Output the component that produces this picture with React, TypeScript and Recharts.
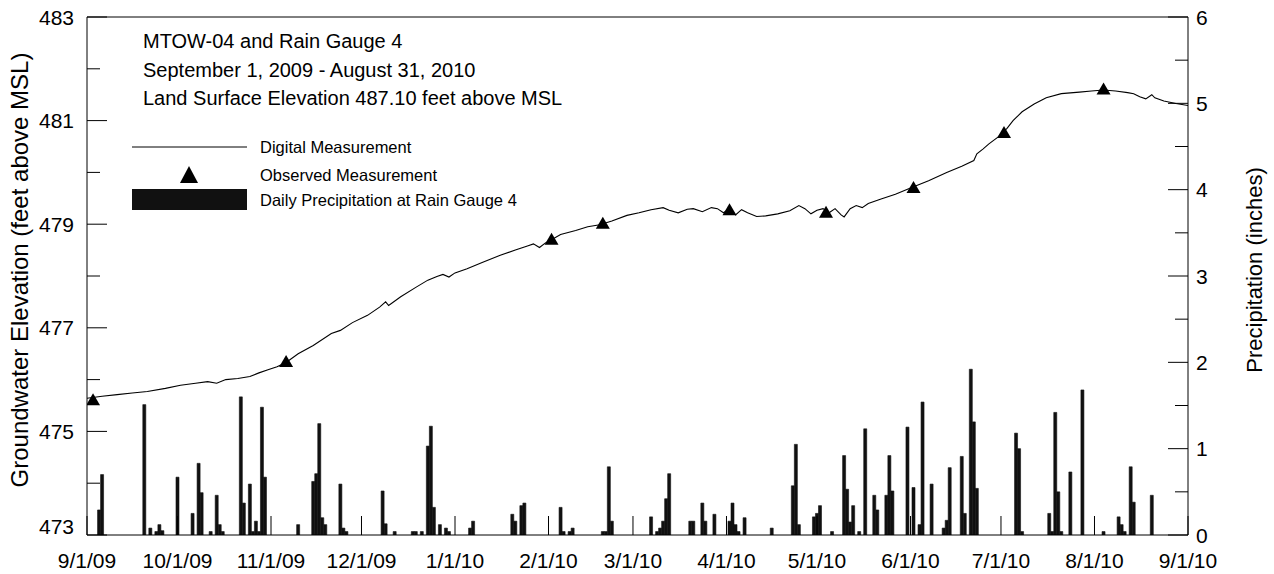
import React from "react";
import { ComposedChart, Bar, Line, Scatter, XAxis, YAxis, ReferenceLine } from "recharts";

const FONT = '"Liberation Sans", Arial, Helvetica, sans-serif';

// days counted from 9/1/09
const MONTH_DAYS = [0, 30, 61, 91, 122, 153, 181, 212, 242, 273, 303, 334, 365];
const MONTH_LABELS = [
  "9/1/09", "10/1/09", "11/1/09", "12/1/09", "1/1/10", "2/1/10", "3/1/10",
  "4/1/10", "5/1/10", "6/1/10", "7/1/10", "8/1/10", "9/1/10",
];
const ELEV_TICKS = [473, 474, 475, 476, 477, 478, 479, 480, 481, 482, 483];
const RAIN_TICKS = [0, 0.5, 1, 1.5, 2, 2.5, 3, 3.5, 4, 4.5, 5, 5.5, 6];

// daily precipitation at rain gauge 4 (inches)
const PRECIP_DAYS = [
  4, 5, 19, 21, 23, 24, 25, 30, 35, 37, 38, 41, 43, 44, 45, 51, 52, 54, 55, 56, 57, 58, 59,
  70, 75, 76, 77, 78, 79, 84, 85, 86, 98, 99, 102, 108, 109, 111, 113, 114, 115, 117, 119, 120,
  127, 128, 141, 142, 144, 145, 157, 158, 160, 161, 171, 172, 173, 174, 187, 189, 190, 191, 192, 193,
  200, 201, 204, 205, 208, 213, 214, 215, 216, 218, 227, 234, 235, 236, 241, 242, 243, 247,
  251, 252, 253, 254, 256, 258, 261, 262, 265, 266, 267, 272, 274, 276, 277, 280, 284, 285, 286,
  290, 291, 293, 294, 295, 308, 309, 310, 319, 320, 321, 322, 323, 326, 330, 337, 342, 343, 344,
  346, 347, 353,
];
const PRECIP_IN = [
  0.29, 0.7, 1.51, 0.08, 0.04, 0.12, 0.05, 0.67, 0.25, 0.83, 0.49, 0.04, 0.46, 0.12, 0.04, 1.6, 0.37, 0.59, 0.04, 0.16, 0.04, 1.48, 0.67,
  0.12, 0.62, 0.71, 1.29, 0.2, 0.12, 0.59, 0.08, 0.04, 0.51, 0.13, 0.04, 0.04, 0.04, 0.04, 1.03, 1.26, 0.32, 0.12, 0.08, 0.04,
  0.08, 0.16, 0.24, 0.16, 0.34, 0.37, 0.32, 0.04, 0.04, 0.08, 0.04, 0.04, 0.79, 0.16, 0.21, 0.04, 0.08, 0.16, 0.42, 0.71,
  0.16, 0.16, 0.37, 0.16, 0.24, 0.16, 0.37, 0.12, 0.04, 0.2, 0.08, 0.57, 1.05, 0.12, 0.21, 0.25, 0.34, 0.04,
  0.92, 0.53, 0.15, 0.34, 0.04, 1.23, 0.46, 0.29, 0.46, 0.92, 0.51, 1.25, 0.55, 0.12, 1.54, 0.59, 0.08, 0.17, 0.78,
  0.91, 0.25, 1.92, 1.31, 0.54, 1.18, 1.0, 0.04, 0.25, 0.04, 1.42, 0.5, 0.04, 0.73, 1.68, 0.04, 0.21, 0.12, 0.04,
  0.79, 0.38, 0.46,
];

// MTOW-04 digital record (feet above MSL)
const LEVEL_DAYS = [
  0, 5, 10, 15, 20, 26, 31, 36, 40, 43, 46, 50, 54, 57, 60, 63, 66, 70, 75, 81, 84, 88, 93, 97, 99, 100,
  104, 109, 113, 116, 118, 120, 122, 126, 131, 137, 142, 146, 148, 150, 152, 154, 157, 162, 166, 170,
  174, 179, 183, 187, 191, 193, 196, 199, 201, 204, 207, 209, 211, 213, 215, 217, 219, 222, 225, 229,
  233, 236, 238, 240, 242, 244, 246, 248, 250, 251, 253, 255, 257, 259, 263, 268, 273, 279, 285, 290,
  294, 295, 297, 299, 302, 305, 307, 310, 314, 318, 323, 329, 333, 337, 341, 345, 347, 349, 351, 353,
  354, 357, 361, 365,
];
const LEVEL_FT = [
  475.64, 475.68, 475.71, 475.74, 475.77, 475.83, 475.89, 475.93, 475.96, 475.93, 476.0, 476.02, 476.06, 476.13, 476.19, 476.25, 476.33, 476.5, 476.66, 476.89, 476.95, 477.1, 477.24, 477.4, 477.5, 477.43,
  477.6, 477.78, 477.92, 477.99, 478.03, 477.98, 478.06, 478.14, 478.26, 478.4, 478.5, 478.58, 478.62, 478.55, 478.64, 478.7, 478.8, 478.88, 478.95, 478.99,
  479.06, 479.17, 479.22, 479.28, 479.32, 479.27, 479.22, 479.29, 479.3, 479.24, 479.32, 479.3, 479.22, 479.3, 479.18, 479.28, 479.22, 479.15, 479.16, 479.2,
  479.26, 479.36, 479.3, 479.2, 479.27, 479.3, 479.22, 479.3, 479.18, 479.14, 479.3, 479.36, 479.32, 479.4, 479.48, 479.58, 479.7, 479.84, 480.0, 480.12,
  480.23, 480.36, 480.45, 480.55, 480.68, 480.85, 481.0, 481.17, 481.32, 481.44, 481.52, 481.55, 481.57, 481.59, 481.57, 481.54, 481.52, 481.46, 481.42, 481.5,
  481.44, 481.38, 481.33, 481.29,
];

// observed (manual) measurements
const OBS_DAYS = [2, 66, 154, 171, 213, 245, 274, 304, 337];
const OBS_FT = [475.61, 476.35, 478.71, 479.02, 479.28, 479.23, 479.71, 480.77, 481.61];

const rainData = PRECIP_DAYS.map((day, i) => ({ day, inches: PRECIP_IN[i] }));
const levelData = LEVEL_DAYS.map((day, i) => ({ day, ft: LEVEL_FT[i] }));
const obsData = OBS_DAYS.map((day, i) => ({ day, ft: OBS_FT[i] }));

const TICK_FONT = 21;

function DateTick(props: any) {
  const { x, y, payload } = props;
  const idx = MONTH_DAYS.indexOf(payload.value);
  return (
    <g>
      <line x1={x} x2={x} y1={y} y2={y - 19} stroke="#000" strokeWidth={1} />
      <text x={x} y={y + 33} textAnchor="middle" fontSize={TICK_FONT} fontFamily={FONT} fill="#000">
        {MONTH_LABELS[idx]}
      </text>
    </g>
  );
}

function ElevTick(props: any) {
  const { x, y, payload } = props;
  const major = payload.value % 2 === 1;
  // lowest label sits on the axis line, clear of the date labels
  const dy = payload.value === ELEV_TICKS[0] ? -1 : 7.5;
  return (
    <g>
      <line x1={x} x2={x + (major ? 20 : 13)} y1={y} y2={y} stroke="#000" strokeWidth={1} />
      {major && (
        <text x={x - 13} y={y + dy} textAnchor="end" fontSize={TICK_FONT} fontFamily={FONT} fill="#000">
          {payload.value}
        </text>
      )}
    </g>
  );
}

function RainTick(props: any) {
  const { x, y, payload } = props;
  const major = Number.isInteger(payload.value);
  return (
    <g>
      <line x1={x} x2={x - (major ? 20 : 13)} y1={y} y2={y} stroke="#000" strokeWidth={1} />
      {major && (
        <text x={x + 8} y={y + 7.5} textAnchor="start" fontSize={TICK_FONT} fontFamily={FONT} fill="#000">
          {payload.value}
        </text>
      )}
    </g>
  );
}

const Triangle = (p: any) => (
  <polygon
    points={`${p.cx},${p.cy - 6.5} ${p.cx - 7},${p.cy + 5.5} ${p.cx + 7},${p.cy + 5.5}`}
    fill="#000"
  />
);

export default function App() {
  return (
    <div style={{ position: "absolute", left: 0, top: 0, width: 1274, height: 574, background: "#fff" }}>
      <ComposedChart width={1274} height={574} data={rainData} margin={{ top: 17, right: 0, bottom: 0, left: 0 }}>
        <XAxis
          dataKey="day"
          type="number"
          domain={[0, 365]}
          ticks={MONTH_DAYS}
          interval={0}
          allowDataOverflow
          height={39}
          tickSize={0}
          tickMargin={0}
          tickLine={false}
          axisLine={{ stroke: "#000" }}
          tick={<DateTick />}
        />
        <YAxis
          yAxisId="elev"
          domain={[473, 483]}
          ticks={ELEV_TICKS}
          interval={0}
          allowDataOverflow
          width={87}
          tickSize={0}
          tickMargin={0}
          tickLine={false}
          axisLine={{ stroke: "#000" }}
          tick={<ElevTick />}
        />
        <YAxis
          yAxisId="rain"
          orientation="right"
          domain={[0, 6]}
          ticks={RAIN_TICKS}
          interval={0}
          allowDataOverflow
          width={86}
          tickSize={0}
          tickMargin={0}
          tickLine={false}
          axisLine={{ stroke: "#000" }}
          tick={<RainTick />}
        />
        <ReferenceLine yAxisId="elev" y={483} stroke="#000" />
        <Bar yAxisId="rain" dataKey="inches" barSize={3} fill="#111" stroke="#111" strokeWidth={0.6} isAnimationActive={false} />
        <Line yAxisId="elev" data={levelData} dataKey="ft" stroke="#000" strokeWidth={1.1} dot={false} isAnimationActive={false} />
        <Scatter yAxisId="elev" data={obsData} dataKey="ft" shape={Triangle} isAnimationActive={false} />
      </ComposedChart>

      <svg width={1274} height={574} style={{ position: "absolute", left: 0, top: 0, pointerEvents: "none" }} fontFamily={FONT}>
        <text transform="translate(28,270) rotate(-90)" textAnchor="middle" fontSize={24} fill="#000">
          Groundwater Elevation (feet above MSL)
        </text>
        <text transform="translate(1262,270) rotate(-90)" textAnchor="middle" fontSize={22} fill="#000">
          Precipitation (inches)
        </text>

        <g fontSize={20} fill="#000">
          <text x={143} y={48.3}>MTOW-04 and Rain Gauge 4</text>
          <text x={143} y={76.7}>September 1, 2009 - August 31, 2010</text>
          <text x={143} y={105}>Land Surface Elevation 487.10 feet above MSL</text>
        </g>

        <g fontSize={16.5} fill="#000">
          <line x1={132} x2={247} y1={147} y2={147} stroke="#000" strokeWidth={1} />
          <text x={260} y={153.3}>Digital Measurement</text>
          <polygon points="189,166 180,183 198,183" fill="#000" />
          <text x={260} y={180.7}>Observed Measurement</text>
          <rect x={132} y={189} width={115} height={21} fill="#111" />
          <text x={260} y={205.7}>Daily Precipitation at Rain Gauge 4</text>
        </g>
      </svg>
    </div>
  );
}
